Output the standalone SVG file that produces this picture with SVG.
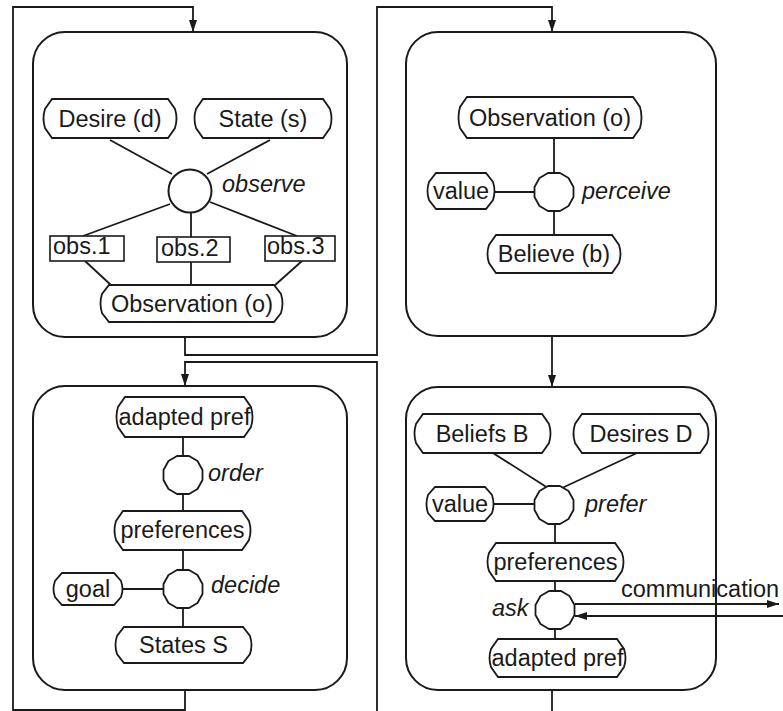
<svg xmlns="http://www.w3.org/2000/svg" width="783" height="711" viewBox="0 0 783 711">
  <style>
    .panel { fill: #fff; stroke: #1a1a1a; stroke-width: 2; }
    .node { fill: #fff; stroke: #1a1a1a; stroke-width: 1.8; }
    .box { fill: #fff; stroke: #1a1a1a; stroke-width: 1.6; }
    .wire { fill: none; stroke: #1a1a1a; stroke-width: 1.8; }
    .flow { fill: none; stroke: #1a1a1a; stroke-width: 1.8; }
    text { font-family: "Liberation Sans", Arial, sans-serif; font-size: 23.5px; fill: #1a1a1a; }
    .c { text-anchor: middle; }
    .op { font-style: italic; }
  </style>
  <defs>
    <marker id="arrow" viewBox="0 0 12 8" refX="12" refY="4" markerWidth="12" markerHeight="8" markerUnits="userSpaceOnUse" orient="auto">
      <path d="M0,0 L12,4 L0,8 Z" fill="#1a1a1a"/>
    </marker>
    <!-- faceted operator node -->
    <polygon id="oct" points="-6,-19 6,-19 14.5,-14 19.5,-5 19.5,5 14.5,14 6,19 -6,19 -14.5,14 -19.5,5 -19.5,-5 -14.5,-14" fill="#fff" stroke="#1a1a1a" stroke-width="1.8" stroke-linejoin="round"/>
  </defs>

  <!-- flow connectors between panels -->
  <g id="connectors">
    <path class="flow" d="M185,690 V710 H13 V7 H193 V32" marker-end="url(#arrow)"/>
    <path class="flow" d="M185,337 V355 H377 V7 H552 V32" marker-end="url(#arrow)"/>
    <path class="flow" d="M552,336 V387" marker-end="url(#arrow)"/>
    <path class="flow" d="M377,711 V362 H185 V386" marker-end="url(#arrow)"/>
    <path class="flow" d="M552,690 V711"/>
  </g>

  <!-- panel: observe -->
  <g id="panel-observe">
    <rect class="panel" x="33" y="32" width="314" height="305" rx="32"/>
    <g class="wire-set">
      <line class="wire" x1="110" y1="140" x2="172" y2="174"/>
      <line class="wire" x1="270" y1="140" x2="207" y2="174"/>
      <line class="wire" x1="170" y1="204" x2="83" y2="236"/>
      <line class="wire" x1="191" y1="212" x2="191" y2="237"/>
      <line class="wire" x1="210" y1="202" x2="297" y2="236"/>
      <line class="wire" x1="85" y1="261" x2="112" y2="286"/>
      <line class="wire" x1="191" y1="262" x2="191" y2="285"/>
      <line class="wire" x1="302" y1="261" x2="274" y2="286"/>
    </g>
    <g id="desire-d">
      <path class="node" d="M52,99 H168 L175,109 Q178,118.5 175,128 L168,138 H52 L45,128 Q42,118.5 45,109 Z"/>
      <text class="c" x="110" y="127">Desire (d)</text>
    </g>
    <g id="state-s">
      <path class="node" d="M203,99 H323 L330,109 Q333,118.5 330,128 L323,138 H203 L196,128 Q193,118.5 196,109 Z"/>
      <text class="c" x="263" y="127">State (s)</text>
    </g>
    <g id="observe">
      <circle cx="190" cy="191" r="21.5" fill="#fff" stroke="#1a1a1a" stroke-width="2"/>
      <text class="op" x="222" y="192">observe</text>
    </g>
    <g id="obs-1">
      <rect class="box" x="50" y="236" width="74" height="25"/>
      <text x="53" y="254">obs.1</text>
    </g>
    <g id="obs-2">
      <rect class="box" x="157" y="237" width="73" height="25"/>
      <text x="161" y="256">obs.2</text>
    </g>
    <g id="obs-3">
      <rect class="box" x="265" y="236" width="70" height="25"/>
      <text x="267" y="254">obs.3</text>
    </g>
    <g id="observation-o">
      <path class="node" d="M109,285 H274 L281,294 Q284,303.5 281,313 L274,322 H109 L102,313 Q99,303.5 102,294 Z"/>
      <text class="c" x="192" y="312">Observation (o)</text>
    </g>
  </g>

  <!-- panel: perceive -->
  <g id="panel-perceive">
    <rect class="panel" x="406" y="32" width="310" height="304" rx="32"/>
    <line class="wire" x1="554" y1="138" x2="554" y2="173"/>
    <line class="wire" x1="495" y1="192" x2="534" y2="192"/>
    <line class="wire" x1="554" y1="211" x2="554" y2="235"/>
    <g id="observation-o-2">
      <path class="node" d="M467,97 H633 L640,107 Q643,117.5 640,128 L633,138 H467 L460,128 Q457,117.5 460,107 Z"/>
      <text class="c" x="550" y="126">Observation (o)</text>
    </g>
    <g id="value-1">
      <path class="node" d="M436,173 H486 L493,182 Q496,191 493,200 L486,209 H436 L429,200 Q426,191 429,182 Z"/>
      <text class="c" x="461" y="199">value</text>
    </g>
    <g id="perceive">
      <use href="#oct" x="554" y="192"/>
      <text class="op" x="582" y="199">perceive</text>
    </g>
    <g id="believe-b">
      <path class="node" d="M496,235 H612 L619,245 Q622,254 619,263 L612,273 H496 L489,263 Q486,254 489,245 Z"/>
      <text class="c" x="554" y="262">Believe (b)</text>
    </g>
  </g>

  <!-- panel: decide -->
  <g id="panel-decide">
    <rect class="panel" x="33" y="386" width="314" height="304" rx="32"/>
    <line class="wire" x1="183" y1="437" x2="183" y2="456"/>
    <line class="wire" x1="183" y1="494" x2="183" y2="511"/>
    <line class="wire" x1="183" y1="550" x2="183" y2="570"/>
    <line class="wire" x1="123" y1="589" x2="163" y2="589"/>
    <line class="wire" x1="183" y1="608" x2="183" y2="627"/>
    <g id="adapted-pref-1">
      <path class="node" d="M125,397 H244 L251,407 Q254,417 251,427 L244,437 H125 L118,427 Q115,417 118,407 Z"/>
      <text class="c" x="184.5" y="425">adapted pref</text>
    </g>
    <g id="order">
      <use href="#oct" x="183" y="475"/>
      <text class="op" x="208" y="481">order</text>
    </g>
    <g id="preferences-1">
      <path class="node" d="M123,511 H242 L249,521 Q252,530.5 249,540 L242,550 H123 L116,540 Q113,530.5 116,521 Z"/>
      <text class="c" x="182.5" y="538">preferences</text>
    </g>
    <g id="goal">
      <path class="node" d="M62,573 H114 L121,581 Q124,589 121,597 L114,605 H62 L55,597 Q52,589 55,581 Z"/>
      <text class="c" x="88" y="597">goal</text>
    </g>
    <g id="decide">
      <use href="#oct" x="183" y="589"/>
      <text class="op" x="211" y="593">decide</text>
    </g>
    <g id="states-s">
      <path class="node" d="M124,627 H243 L250,636 Q253,645 250,654 L243,663 H124 L117,654 Q114,645 117,636 Z"/>
      <text class="c" x="183.5" y="653">States S</text>
    </g>
  </g>

  <!-- panel: prefer / ask -->
  <g id="panel-prefer">
    <rect class="panel" x="406" y="387" width="310" height="303" rx="32"/>
    <line class="wire" x1="493" y1="453" x2="548" y2="488"/>
    <line class="wire" x1="637" y1="453" x2="562" y2="488"/>
    <line class="wire" x1="494" y1="504" x2="535" y2="504"/>
    <line class="wire" x1="555" y1="524" x2="555" y2="543"/>
    <line class="wire" x1="555" y1="581" x2="555" y2="592"/>
    <line class="wire" x1="555" y1="628" x2="555" y2="639"/>
    <g id="beliefs-b">
      <path class="node" d="M423,414 H542 L549,424 Q552,433.5 549,443 L542,453 H423 L416,443 Q413,433.5 416,424 Z"/>
      <text class="c" x="482" y="442">Beliefs B</text>
    </g>
    <g id="desires-d">
      <path class="node" d="M582,414 H700 L707,424 Q710,433.5 707,443 L700,453 H582 L575,443 Q572,433.5 575,424 Z"/>
      <text class="c" x="641" y="442">Desires D</text>
    </g>
    <g id="value-2">
      <path class="node" d="M435,487 H485 L492,495 Q495,504 492,513 L485,521 H435 L428,513 Q425,504 428,495 Z"/>
      <text class="c" x="460" y="512">value</text>
    </g>
    <g id="prefer">
      <use href="#oct" x="554" y="505"/>
      <text class="op" x="585" y="512">prefer</text>
    </g>
    <g id="preferences-2">
      <path class="node" d="M496,543 H615 L622,553 Q625,562 622,571 L615,581 H496 L489,571 Q486,562 489,553 Z"/>
      <text class="c" x="555.5" y="570">preferences</text>
    </g>
    <g id="ask">
      <use href="#oct" x="555" y="610"/>
      <text class="op" x="492" y="616">ask</text>
    </g>
    <g id="adapted-pref-2">
      <path class="node" d="M498,639 H617 L624,649 Q627,658 624,667 L617,677 H498 L491,667 Q488,658 491,649 Z"/>
      <text class="c" x="557.5" y="666">adapted pref</text>
    </g>
  </g>

  <!-- external communication channel -->
  <g id="communication">
    <path class="flow" d="M575,604 H779" marker-end="url(#arrow)"/>
    <path class="flow" d="M783,616 H575" marker-end="url(#arrow)"/>
    <text x="621" y="597">communication</text>
  </g>
</svg>
